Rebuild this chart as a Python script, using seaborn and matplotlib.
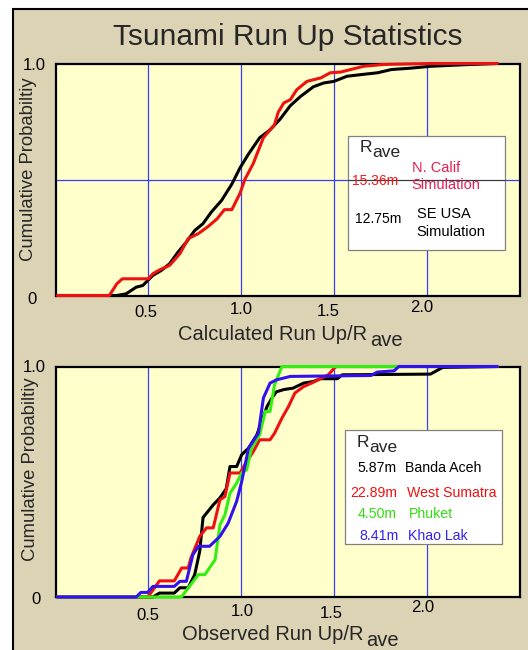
import matplotlib
matplotlib.use("Agg")
import matplotlib.pyplot as plt
from matplotlib.patches import Rectangle
from matplotlib.transforms import ScaledTranslation
import pandas as pd
import seaborn as sns

# ---------------------------------------------------------------- text
TITLE = "Tsunami Run Up Statistics"
Y_LABEL = "Cumulative Probabiltiy"
X_LABELS = ["Calculated Run Up/R", "Observed Run Up/R"]
X_SUB = "ave"
X_TICKS = [0.5, 1.0, 1.5, 2.0]
X_TICK_LABELS = ["0.5", "1.0", "1.5", "2.0"]
Y_TICKS = [0.0, 1.0]
Y_TICK_LABELS = ["0", "1.0"]

# ---------------------------------------------------------------- simulated run up (normalised by R_ave)
SIM_NAMES = ["SE USA", "N. Calif"]
SIM_RAVE = ["12.75m", "15.36m"]

SE_USA_X = [0.01, 0.33, 0.38, 0.435, 0.47, 0.525, 0.57, 0.615, 0.66, 0.705, 0.75, 0.795,
            0.84, 0.895, 0.95, 0.994, 1.04, 1.10, 1.156, 1.21, 1.265, 1.32, 1.39, 1.445,
            1.50, 1.57, 1.645, 1.735, 1.81, 1.915, 2.02, 2.24, 2.38]
SE_USA_Y = [0.0, 0.0, 0.007, 0.036, 0.043, 0.087, 0.108, 0.137, 0.187, 0.23, 0.28, 0.31,
            0.36, 0.41, 0.48, 0.55, 0.61, 0.68, 0.714, 0.76, 0.818, 0.858, 0.90, 0.916,
            0.923, 0.945, 0.952, 0.96, 0.974, 0.98, 0.988, 0.996, 1.0]

N_CALIF_X = [0.01, 0.29, 0.33, 0.36, 0.50, 0.525, 0.56, 0.615, 0.67, 0.715, 0.77, 0.82,
             0.87, 0.91, 0.95, 0.994, 1.02, 1.04, 1.066, 1.12, 1.18, 1.20, 1.23, 1.265,
             1.30, 1.355, 1.43, 1.48, 1.535, 1.59, 1.66, 1.77, 2.02, 2.38]
N_CALIF_Y = [0.0, 0.0, 0.05, 0.072, 0.072, 0.094, 0.11, 0.13, 0.18, 0.245, 0.267, 0.296,
             0.33, 0.37, 0.37, 0.44, 0.50, 0.53, 0.57, 0.68, 0.736, 0.79, 0.83, 0.844,
             0.887, 0.923, 0.938, 0.96, 0.963, 0.974, 0.988, 0.996, 1.0, 1.0]

# ---------------------------------------------------------------- observed run up (normalised by R_ave)
OBS_NAMES = ["Banda Aceh", "West Sumatra", "Phuket", "Khao Lak"]
OBS_RAVE = ["5.87m", "22.89m", "4.50m", "8.41m"]

BANDA_ACEH_X = [0.01, 0.525, 0.56, 0.64, 0.67, 0.715, 0.75, 0.777, 0.795, 0.80, 0.85, 0.886,
                0.92, 0.94, 0.976, 1.003, 1.04, 1.085, 1.14, 1.166, 1.19, 1.23, 1.28, 1.337,
                1.39, 1.427, 1.518, 1.545, 2.02, 2.086, 2.38]
BANDA_ACEH_Y = [0.0, 0.0, 0.017, 0.017, 0.04, 0.04, 0.097, 0.198, 0.345, 0.35, 0.40, 0.43,
                0.47, 0.566, 0.566, 0.617, 0.646, 0.704, 0.827, 0.863, 0.89, 0.90, 0.906, 0.928,
                0.935, 0.947, 0.947, 0.964, 0.967, 0.996, 1.0]

WEST_SUMATRA_X = [0.01, 0.497, 0.525, 0.56, 0.64, 0.68, 0.715, 0.73, 0.777, 0.814, 0.85, 0.886,
                  0.913, 0.94, 0.994, 1.02, 1.066, 1.10, 1.156, 1.18, 1.22, 1.255, 1.29, 1.337,
                  1.38, 1.427, 1.47, 1.51, 2.38]
WEST_SUMATRA_Y = [0.0, 0.0, 0.03, 0.07, 0.07, 0.126, 0.126, 0.17, 0.263, 0.30, 0.30, 0.422,
                  0.436, 0.538, 0.538, 0.574, 0.631, 0.682, 0.682, 0.71, 0.776, 0.826, 0.885, 0.913,
                  0.928, 0.947, 0.964, 1.0, 1.0]

PHUKET_X = [0.01, 0.678, 0.77, 0.805, 0.86, 0.886, 0.913, 0.94, 0.976, 1.003, 1.03, 1.057,
            1.10, 1.13, 1.156, 1.18, 1.22, 2.38]
PHUKET_Y = [0.0, 0.0, 0.097, 0.097, 0.162, 0.313, 0.357, 0.45, 0.494, 0.538, 0.552, 0.646,
            0.704, 0.805, 0.805, 0.92, 1.0, 1.0]

KHAO_LAK_X = [0.01, 0.435, 0.46, 0.497, 0.525, 0.64, 0.67, 0.705, 0.74, 0.77, 0.83, 0.886,
              0.93, 0.976, 1.003, 1.04, 1.093, 1.12, 1.156, 1.19, 1.265, 1.70, 1.734, 1.824,
              1.85, 2.38]
KHAO_LAK_Y = [0.0, 0.0, 0.02, 0.02, 0.046, 0.046, 0.068, 0.068, 0.183, 0.22, 0.22, 0.263,
              0.32, 0.415, 0.50, 0.646, 0.71, 0.863, 0.928, 0.942, 0.957, 0.961, 0.976, 0.981,
              1.0, 1.0]

# ---------------------------------------------------------------- style
W, H, DPI = 528, 650, 100
TAN = "#dcd3b5"
PANEL = "#ffffcc"
GRID = "#3b3bff"
SIM_COLORS = ["#000000", "#ee1111"]
SIM_TEXT_COLORS = [("#000000", "#000000"), ("#ee1c1c", "#e41e52")]
OBS_COLORS = ["#000000", "#ee1111", "#33ee11", "#3311ee"]
OBS_TEXT_COLORS = ["#000000", "#ee1111", "#33dd11", "#3322ee"]

sns.set_style("white")
plt.rcParams["font.family"] = ["Liberation Sans", "DejaVu Sans"]


def fx(px):
    return px / W


def fy(py):
    return 1.0 - py / H


def series_frame(names, xs, ys):
    parts = [pd.DataFrame({"ratio": x, "prob": y, "site": n}) for n, x, y in zip(names, xs, ys)]
    return pd.concat(parts, ignore_index=True)


fig = plt.figure(figsize=(W / DPI, H / DPI), dpi=DPI, facecolor="white")
fig.patches.append(Rectangle((fx(12.5), -0.05), 1.0, fy(8.5) + 0.05, transform=fig.transFigure,
                             facecolor=TAN, edgecolor="black", linewidth=1.5, zorder=-1))

ax_top = fig.add_axes([fx(55.5), fy(295.5), 464 / W, 232 / H])
ax_bot = fig.add_axes([fx(55.5), fy(597.0), 464 / W, 230.5 / H])

sim = series_frame(SIM_NAMES, [SE_USA_X, N_CALIF_X], [SE_USA_Y, N_CALIF_Y])
obs = series_frame(OBS_NAMES, [BANDA_ACEH_X, WEST_SUMATRA_X, PHUKET_X, KHAO_LAK_X],
                   [BANDA_ACEH_Y, WEST_SUMATRA_Y, PHUKET_Y, KHAO_LAK_Y])

sns.lineplot(data=sim, x="ratio", y="prob", hue="site", hue_order=SIM_NAMES,
             palette=SIM_COLORS, sort=False, estimator=None, legend=False,
             linewidth=2.2, ax=ax_top)
sns.lineplot(data=obs, x="ratio", y="prob", hue="site", hue_order=OBS_NAMES,
             palette=OBS_COLORS, sort=False, estimator=None, legend=False,
             linewidth=2.2, ax=ax_bot)

# tick label offsets in pixels (dx, dy below the axis)
XT_SHIFT = {ax_top: ([-2, 0, -6, -5], [17, 14.5, 16.5, 11.5]),
            ax_bot: ([0, 1, -3, -3.6], [18, 14, 16, 10.5])}
YT_SHIFT = {ax_top: ([-23.2, -21.5], [4, 2.5]),
            ax_bot: ([-20, -21.5], [2, 1.5])}

for ax in (ax_top, ax_bot):
    ax.set_facecolor(PANEL)
    ax.set_xlim(0, 2.5)
    ax.set_ylim(0, 1)
    for ln in ax.lines:
        ln.set_zorder(2.6)
        ln.set_clip_on(False)
    for xv in X_TICKS:
        ax.axvline(xv, color=GRID, linewidth=0.9, zorder=1)
    for sp in ax.spines.values():
        sp.set_visible(True)
        sp.set_color("black")
        sp.set_linewidth(1.6)
    ax.set_xlabel("")
    ax.set_ylabel("")
    ax.set_xticks(X_TICKS, X_TICK_LABELS)
    ax.set_yticks(Y_TICKS, Y_TICK_LABELS)
    ax.tick_params(axis="both", length=0, pad=0, labelsize=12, colors="black")
    dxs, dys = XT_SHIFT[ax]
    for tick, dx, dy in zip(ax.xaxis.get_major_ticks(), dxs, dys):
        lab = tick.label1
        lab.set_va("center")
        lab.set_transform(lab.get_transform() + ScaledTranslation(dx / DPI, -dy / DPI, fig.dpi_scale_trans))
    dxs, dys = YT_SHIFT[ax]
    for tick, dx, dy in zip(ax.yaxis.get_major_ticks(), dxs, dys):
        lab = tick.label1
        lab.set_ha("center")
        lab.set_va("center")
        lab.set_transform(lab.get_transform() + ScaledTranslation(dx / DPI, -dy / DPI, fig.dpi_scale_trans))

ax_top.axhline(0.5, color=GRID, linewidth=0.9, zorder=1)

# key boxes
ax_top.add_patch(Rectangle((0.63, 0.196), 0.339, 0.4915, transform=ax_top.transAxes,
                           facecolor="white", edgecolor="#808080", linewidth=0.9, zorder=3))
ax_top.axhline(0.5, xmin=0.63, xmax=0.969, color="#3a3a48", linewidth=0.9, zorder=3.5)
ax_bot.add_patch(Rectangle((0.624, 0.23), 0.339, 0.4945, transform=ax_bot.transAxes,
                           facecolor="white", edgecolor="#808080", linewidth=0.9, zorder=3))

# title and axis labels
fig.text(fx(287.5), fy(45), TITLE, ha="center", va="baseline", fontsize=21.5)
for label, (right, base) in zip(X_LABELS, [(367, 340), (363, 640)]):
    fig.text(fx(right), fy(base), label, ha="right", va="baseline", fontsize=14.5)
    fig.text(fx(right + 3), fy(base + 6.5), X_SUB, ha="left", va="baseline", fontsize=14.5)
for cx, cy in [(28.5, 169), (30.5, 469)]:
    fig.text(fx(cx), fy(cy), Y_LABEL, rotation=90, ha="center", va="center", fontsize=13.3)

# key texts
fig.text(fx(359.5), fy(151.5), "R", ha="left", va="baseline", fontsize=12.5)
fig.text(fx(372.5), fy(157), X_SUB, ha="left", va="baseline", fontsize=12.5)
sim_rows = [(223, [(218, "SE USA"), (236, "Simulation")], 401.7, 416.7),
            (185, [(171.5, "N. Calif"), (189.3, "Simulation")], 398.3, 411.7)]
for rave, (num_c, name_c), (base, lines, right, left) in zip(SIM_RAVE, SIM_TEXT_COLORS, sim_rows):
    fig.text(fx(right), fy(base), rave, ha="right", va="baseline", fontsize=10, color=num_c)
    for b, t in lines:
        fig.text(fx(left), fy(b), t, ha="left", va="baseline", fontsize=10.5, color=name_c)

fig.text(fx(357), fy(446.7), "R", ha="left", va="baseline", fontsize=12.5)
fig.text(fx(369.5), fy(451.7), X_SUB, ha="left", va="baseline", fontsize=12.5)
obs_rows = [(471.7, 397, 405), (496.7, 397.7, 406.7), (518, 396.7, 409.3), (540, 399, 408.3)]
for name, rave, col, (base, right, left) in zip(OBS_NAMES, OBS_RAVE, OBS_TEXT_COLORS, obs_rows):
    fig.text(fx(right), fy(base), rave, ha="right", va="baseline", fontsize=10.2, color=col)
    fig.text(fx(left), fy(base), name, ha="left", va="baseline", fontsize=10.2, color=col)

fig.savefig("out.png", dpi=DPI, facecolor=fig.get_facecolor())
